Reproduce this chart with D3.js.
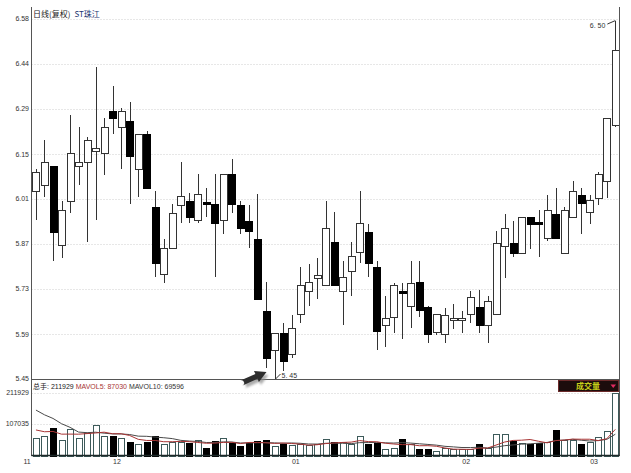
<!DOCTYPE html>
<html><head><meta charset="utf-8">
<script src="https://cdn.jsdelivr.net/npm/d3@7"></script>
<style>
html,body{margin:0;padding:0;background:#fff;}
svg{display:block;font-family:"Liberation Sans",Arial,sans-serif;}
.cjk{font-family:"Noto Sans CJK SC","Liberation Sans",sans-serif;}
</style></head><body>
<svg id="c" width="631" height="473"></svg>
<script>
// ---------------- data ----------------
const open = [6.04,6.06,6.12,5.87,6.01,6.12,6.13,6.165,6.16,6.29,
  6.24,6.26,6.11,6.22,5.99,5.78,5.86,5.995,6.01,5.95,
  6.005,6.00,5.95,6.095,5.995,5.945,5.89,5.665,5.54,5.595,
  5.53,5.655,5.725,5.768,5.745,5.88,5.725,5.79,5.85,5.91,
  5.80,5.62,5.645,5.725,5.68,5.755,5.677,5.598,5.59,5.636,
  5.636,5.655,5.677,5.62,5.655,5.869,5.878,5.847,5.957,5.944,
  5.894,5.969,5.847,5.96,6.026,5.973,6.017,6.073,6.246];
const high = [6.11,6.20,6.12,6.01,6.28,6.24,6.21,6.43,6.27,6.37,
  6.30,6.32,6.22,6.23,6.04,5.89,6.00,6.13,6.035,6.095,
  6.05,6.095,6.095,6.14,6.01,5.995,6.03,5.755,5.595,5.625,
  5.65,5.80,5.81,5.83,6.01,5.975,5.82,5.88,6.04,5.935,
  5.82,5.71,5.75,5.75,5.82,5.82,5.68,5.655,5.673,5.686,
  5.664,5.727,5.73,5.711,5.913,5.969,5.947,5.957,5.957,5.979,
  6.026,6.051,5.991,6.073,6.051,6.026,6.10,6.27,6.575];
const low = [5.95,6.02,5.82,5.83,5.97,6.06,5.88,5.95,6.09,6.22,
  6.11,6.00,6.02,6.05,5.77,5.75,5.86,5.94,5.94,5.94,
  5.96,5.77,5.905,5.97,5.905,5.86,5.70,5.485,5.45,5.475,
  5.515,5.625,5.68,5.70,5.745,5.745,5.62,5.71,5.815,5.77,
  5.54,5.55,5.595,5.575,5.61,5.645,5.563,5.589,5.563,5.607,
  5.595,5.626,5.595,5.563,5.655,5.768,5.834,5.847,5.859,5.834,
  5.884,5.894,5.847,5.96,5.906,5.938,5.995,6.017,6.24];
const close = [6.10,6.13,5.91,5.98,6.16,6.13,6.20,6.175,6.24,6.27,
  6.29,6.15,6.22,6.05,5.815,5.86,5.97,6.025,5.96,6.03,
  6.00,5.94,6.095,6.00,5.925,5.915,5.70,5.515,5.595,5.505,
  5.61,5.745,5.755,5.777,5.925,5.745,5.77,5.835,5.94,5.815,
  5.60,5.64,5.745,5.72,5.75,5.667,5.59,5.655,5.651,5.642,
  5.642,5.708,5.62,5.696,5.878,5.925,5.847,5.957,5.938,5.938,
  5.979,5.894,5.979,6.039,6.004,6.013,6.095,6.268,6.482];
const volume = [60500,64900,94700,51300,91300,59100,75200,104900,64900,64900,
  59100,45500,40000,45500,64900,37600,45500,45500,41000,51300,
  23900,47900,58100,42000,30800,42000,48900,51300,31800,37600,
  34200,37600,34200,39000,57100,45500,45500,40000,64900,40000,
  42000,21500,26300,54700,40000,22900,22900,16100,25000,20500,
  20500,20500,37600,26300,71800,71800,47900,42000,37600,42000,
  45500,85500,51300,53700,40000,45500,62600,83100,211929];
// volumes of the days just before the window (estimated from the MA lines' start)
const prevVolumes = [225000,218000,230000,214000,220000,95000,90000,97000,90500];

const priceTicks = [5.45,5.591,5.733,5.874,6.015,6.156,6.298,6.439,6.58];
const priceTickLabels = ["5.45","5.59","5.73","5.87","6.01","6.15","6.29","6.44","6.58"];
const volTicks = [107035,211929];
const monthTickIndex = [0,10,31,51,66];
const monthTickLabels = ["11","12","01","02","03"];
const titleMain = "日线(复权)";
const titleStock = "ST珠江";
const mavol5Label = "87030";
const mavol10Label = "69596";
const highLabel = "6. 50";
const lowLabel = "5. 45";

// ---------------- layout ----------------
const svg = d3.select("#c");
const L = 31.5, R = 619.5;
const n = close.length;
const x = d3.scaleBand().domain(d3.range(n)).range([31.7, 619.6]);
const cx = i => x(i) + x.bandwidth()/2;
const yP = d3.scaleLinear().domain([5.45, 6.58]).range([379, 19]);
const yV = d3.scaleLinear().domain([0, 211929]).range([455.5, 393]);

// grid
svg.append("g").selectAll("line").data(priceTicks).join("line")
  .attr("x1", L).attr("x2", R)
  .attr("y1", d => Math.round(yP(d))+0.5).attr("y2", d => Math.round(yP(d))+0.5)
  .attr("stroke", "#cfcfcf").attr("stroke-dasharray", "1,2");
svg.append("g").selectAll("line").data(volTicks).join("line")
  .attr("x1", L).attr("x2", R)
  .attr("y1", d => Math.round(yV(d))+0.5).attr("y2", d => Math.round(yV(d))+0.5)
  .attr("stroke", "#cfcfcf").attr("stroke-dasharray", "1,2");

// volume bars
const up = i => close[i] >= open[i];
svg.append("g").selectAll("rect").data(volume).join("rect")
  .attr("x", (d,i) => Math.round(cx(i)-3)+0.5)
  .attr("width", 6)
  .attr("y", d => Math.round(yV(d))+0.5)
  .attr("height", d => Math.max(0, Math.round(yV(0)) - Math.round(yV(d))))
  .attr("fill", (d,i) => up(i) ? "#fff" : "#000")
  .attr("stroke", (d,i) => up(i) ? "#3d5a5a" : "#000");

// MA lines
const allV = prevVolumes.concat(volume);
function mavg(k){
  return volume.map((v,i) => { const j = i + prevVolumes.length; return d3.mean(allV.slice(j-k+1, j+1)); });
}
const ma5 = mavg(5), ma10 = mavg(10);
const line = d3.line().x((d,i) => cx(i)).y(d => yV(d));
svg.append("path").datum(ma10).attr("d", line).attr("fill","none").attr("stroke","#4a4a4a").attr("stroke-width",1);
svg.append("path").datum(ma5).attr("d", line).attr("fill","none").attr("stroke","#a83434").attr("stroke-width",1);

// candles
const g = svg.append("g").attr("shape-rendering","crispEdges");
g.selectAll("line").data(close).join("line")
  .attr("x1", (d,i) => Math.round(cx(i))+0.5).attr("x2", (d,i) => Math.round(cx(i))+0.5)
  .attr("y1", (d,i) => yP(high[i])).attr("y2", (d,i) => yP(low[i]))
  .attr("stroke", "#333");
g.selectAll("rect").data(close).join("rect")
  .attr("x", (d,i) => Math.round(cx(i)-3.5)+0.5)
  .attr("width", 7)
  .attr("y", (d,i) => Math.round(yP(Math.max(open[i], close[i])))+0.5)
  .attr("height", (d,i) => Math.max(1, Math.round(yP(Math.min(open[i], close[i]))) - Math.round(yP(Math.max(open[i], close[i])))))
  .attr("fill", (d,i) => up(i) ? "#fff" : "#000")
  .attr("stroke", (d,i) => up(i) ? "#333" : "#000");

// frame
const fr = svg.append("g").attr("stroke","#555").attr("shape-rendering","crispEdges");
fr.append("line").attr("x1",L).attr("x2",L).attr("y1",7).attr("y2",456);
fr.append("line").attr("x1",R).attr("x2",R).attr("y1",7).attr("y2",456);
fr.append("line").attr("x1",L).attr("x2",R).attr("y1",379.5).attr("y2",379.5);
svg.append("line").attr("x1",L).attr("x2",R).attr("y1",455.5).attr("y2",455.5)
  .attr("stroke","#1e2a2a").attr("stroke-width",1.6);

// axis labels
svg.append("g").selectAll("text").data(priceTicks).join("text")
  .attr("x", 29).attr("y", d => yP(d)).attr("dy","0.35em")
  .attr("text-anchor","end").attr("font-size",7).attr("fill","#333")
  .text((d,i) => priceTickLabels[i]);
svg.append("g").selectAll("text").data(volTicks).join("text")
  .attr("x", 29).attr("y", d => yV(d)).attr("dy","0.35em")
  .attr("text-anchor","end").attr("font-size",7).attr("fill","#333")
  .text(d => d);
svg.append("g").selectAll("text").data(monthTickIndex).join("text")
  .attr("x", (d,k) => k === 0 ? x(d) - 1 : x(d))
  .attr("y", 464)
  .attr("text-anchor", (d,k) => k === 0 ? "end" : "middle")
  .attr("font-size",7).attr("fill","#333")
  .text((d,k) => monthTickLabels[k]);

// titles
const t1 = svg.append("text").attr("class","cjk").attr("x",33).attr("y",16.5).attr("font-size",8);
t1.append("tspan").attr("fill","#222").text(titleMain);
t1.append("tspan").attr("fill","#1d3570").attr("dx",4).text(titleStock);
const t2 = svg.append("text").attr("x",33).attr("y",388.5).attr("font-size",7);
t2.append("tspan").attr("class","cjk").attr("fill","#222").text("总手");
t2.append("tspan").attr("fill","#222").text(": " + volume[n-1] + " ");
t2.append("tspan").attr("fill","#a83434").text("MAVOL5: " + mavol5Label + " ");
t2.append("tspan").attr("fill","#333").text("MAVOL10: " + mavol10Label);

// 成交量 box
svg.append("rect").attr("x",558.5).attr("y",380.5).attr("width",60).attr("height",11)
  .attr("fill","#1c0c0c").attr("stroke","#6b2a2a");
svg.append("text").attr("class","cjk").attr("x",588).attr("y",389.3).attr("text-anchor","middle")
  .attr("font-size",8).attr("font-weight","bold").attr("fill","#c8cf1a").text("成交量");
svg.append("path").attr("d","M610.5,384.5 L616,384.5 L613.25,388 Z").attr("fill","#e02a60");

// low annotation + arrow
const iLow = d3.minIndex(low), iHigh = d3.maxIndex(high);
const lx = cx(iLow), ly = yP(low[iLow]);
svg.append("line").attr("x1",lx+1).attr("y1",ly).attr("x2",lx+6).attr("y2",ly-5).attr("stroke","#333");
svg.append("text").attr("x",lx+7).attr("y",ly-1.5).attr("font-size",7).attr("fill","#333").text(lowLabel);

function arrowPath(S, T, sw, hw, hl){
  const dx = T[0]-S[0], dy = T[1]-S[1], len = Math.hypot(dx,dy);
  const u = [dx/len, dy/len], nn = [-u[1], u[0]];
  const B = [T[0]-u[0]*hl, T[1]-u[1]*hl];
  const p = (P, s) => [P[0]+nn[0]*s, P[1]+nn[1]*s];
  const pts = [p(S,sw), p(B,sw), p(B,hw), T, p(B,-hw), p(B,-sw), p(S,-sw)];
  return "M" + pts.map(q => q[0].toFixed(1)+","+q[1].toFixed(1)).join("L") +
    "A" + sw + "," + sw + " 0 0 1 " + p(S,sw).map(v=>v.toFixed(1)).join(",") + "Z";
}
const T = [lx - 8, ly - 7], S = [lx - 33, ly + 4];
const defs = svg.append("defs");
defs.append("filter").attr("id","blur").append("feGaussianBlur").attr("stdDeviation",1.2);
svg.append("path").attr("d", arrowPath([S[0]+2,S[1]+3],[T[0]+2,T[1]+3],2.6,6,11))
  .attr("fill","#8a8a8a").attr("opacity",0.7).attr("filter","url(#blur)");
svg.append("path").attr("d", arrowPath(S,T,2.6,6,11)).attr("fill","#2e2e2e");

// high annotation
const hx = cx(iHigh), hy = yP(high[iHigh]);
svg.append("line").attr("x1",hx).attr("y1",hy).attr("x2",hx-8).attr("y2",hy+3.5).attr("stroke","#333");
svg.append("text").attr("x",hx-10).attr("y",hy+7).attr("text-anchor","end").attr("font-size",7).attr("fill","#333").text(highLabel);
</script></body></html>
